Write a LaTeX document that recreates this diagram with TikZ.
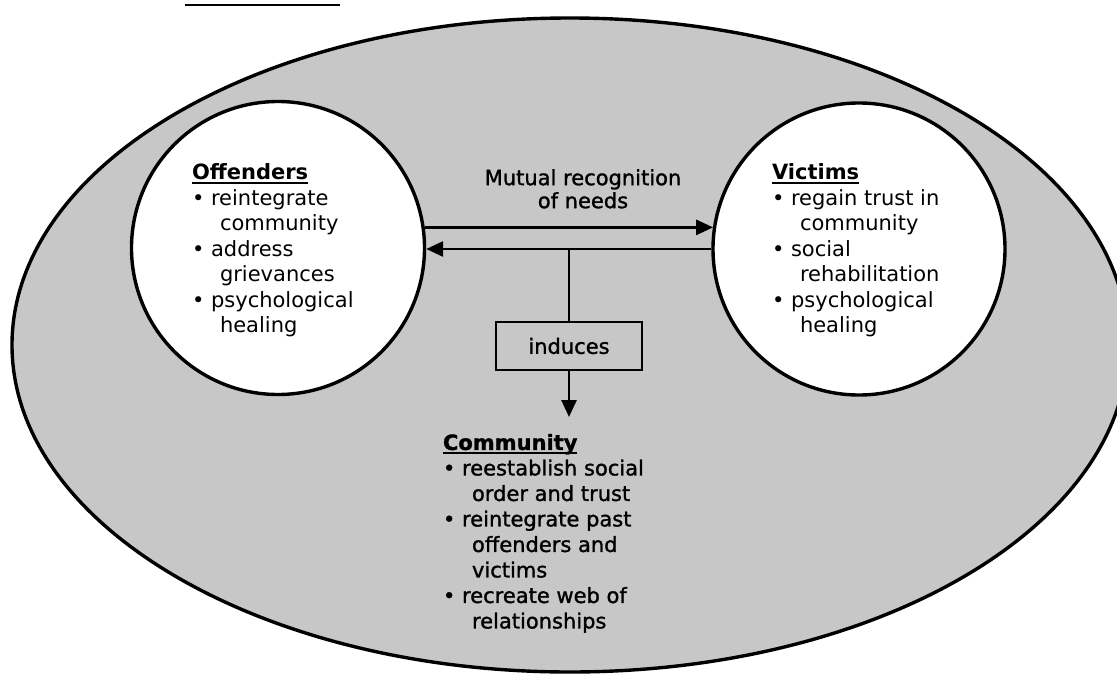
\documentclass[tikz,border=0pt]{standalone}
\usepackage{fontspec}
\setmainfont{DejaVu Sans}
\newfontfamily\darkfont{DejaVu Sans}[FakeBold=1.3]
\usetikzlibrary{arrows.meta,calc}
\definecolor{bggray}{gray}{0.78}
\newcommand\myul[1]{\setbox0\hbox{#1}\rlap{\rule[-4pt]{\wd0}{2.2pt}}\box0}
\begin{document}
\begin{tikzpicture}[x=1pt,y=-1pt,
  txt/.style={font=\fontsize{21}{25.5}\selectfont, align=left, anchor=north west, inner sep=0pt, outer sep=0pt},
  ring/.style={circle, draw, line width=3.4pt, fill=white, inner sep=0pt},
  arr/.style={line width=2.8pt, -{Triangle[length=17pt,width=15pt]}},
  conn/.style={line width=2.8pt},
  boxed/.style={draw, line width=2.8pt, minimum width=146pt, minimum height=48pt, inner sep=0pt, font=\darkfont\fontsize{21}{25.5}\selectfont}]
\useasboundingbox (0,0) rectangle (1117,675);
\clip (0,0) rectangle (1117,675);
\draw[line width=3.4pt, fill=bggray] (570,345) ellipse [x radius=558pt, y radius=327pt];
\draw[line width=2.4pt] (185,5) -- (340,5);
\node[ring, minimum size=293pt] (L) at (278,248) {};
\node[ring, minimum size=292pt] (R) at (859,249) {};
\node[txt] (O) at (192,164) {\textbf{\myul{Offenders}}\\•\ reintegrate\\\hspace*{28pt}community\\•\ address\\\hspace*{28pt}grievances\\•\ psychological\\\hspace*{28pt}healing};
\node[txt] (V) at (772,164) {\textbf{\myul{Victims}}\\•\ regain trust in\\\hspace*{28pt}community\\•\ social\\\hspace*{28pt}rehabilitation\\•\ psychological\\\hspace*{28pt}healing};
\node[txt, font=\darkfont\fontsize{21}{25.5}\selectfont] (C) at (443,434) {\textbf{\myul{Community}}\\•\ reestablish social\\\hspace*{29pt}order and trust\\•\ reintegrate past\\\hspace*{29pt}offenders and\\\hspace*{29pt}victims\\•\ recreate web of\\\hspace*{29pt}relationships};
\node[font=\darkfont\fontsize{21}{23}\selectfont, align=center, anchor=north, inner sep=0pt] (M) at (583,169) {Mutual recognition\\of needs};
\node[boxed] (I) at (569,346) {induces};
\coordinate (J) at (I.north |- R.west);
\draw[arr] (L.8) -- (R.171 |- L.8);
\draw[arr] (R.west) -- (L.east |- R.west);
\draw[conn] (J) -- (I.north);
\draw[arr, shorten >=17pt] (I.south) -- (I.south |- C.north);
\end{tikzpicture}
\end{document}
